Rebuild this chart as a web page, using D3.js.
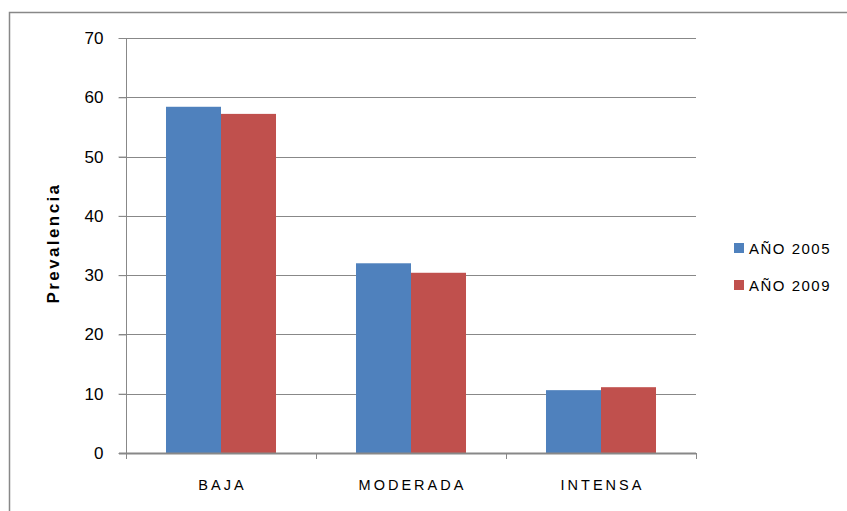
<!DOCTYPE html>
<html><head><meta charset="utf-8">
<script src="https://cdn.jsdelivr.net/npm/d3@7"></script>
<style>body{margin:0;background:#fff;} svg{display:block;font-family:"Liberation Sans",Arial,sans-serif;}</style>
</head><body><svg id="c" width="847" height="511"></svg>
<script>
const categories = ["BAJA", "MODERADA", "INTENSA"];
const seriesNames = ["AÑO 2005", "AÑO 2009"];
const values2005 = [58.4, 32.0, 10.6];
const values2009 = [57.2, 30.4, 11.1];
const yTicks = [0, 10, 20, 30, 40, 50, 60, 70];
const colors = ["#4f81bd", "#c0504d"];

(function(){
const svg = d3.select("#c");
const pL = 126, pR = 696, pT = 38, pB = 453;

// outer border
svg.append("path").attr("d", "M9.5,511 L9.5,12.5 L847,12.5").attr("fill","none").attr("stroke","#888").attr("stroke-width",1.5);

const y = d3.scaleLinear().domain([0,70]).range([pB, pT]);
const x = d3.scaleBand().domain(categories).range([pL, pR]).paddingInner(0.421).paddingOuter(0.2105);
const xs = d3.scaleBand().domain(seriesNames).range([0, x.bandwidth()]);

// gridlines
svg.append("g").selectAll("line").data(yTicks.filter(d=>d>0)).join("line")
  .attr("x1", pL-7).attr("x2", pR).attr("y1", d=>Math.round(y(d))+0.5).attr("y2", d=>Math.round(y(d))+0.5)
  .attr("stroke","#888").attr("stroke-width",1);

// y axis
const yAxis = d3.axisLeft(y).tickValues(yTicks).tickSize(8).tickPadding(15).tickFormat(d3.format("d"));
const gy = svg.append("g").attr("transform",`translate(${pL+0.5},0)`).call(yAxis);
gy.select(".domain").attr("stroke","#888").attr("d", `M0,${pT} V${pB+6}`);
gy.selectAll(".tick line").attr("stroke","#888");
gy.selectAll(".tick text").attr("font-size",17).attr("fill","#000").attr("font-family","Liberation Sans, Arial, sans-serif");

// bars
const data = categories.map((c,i)=>({cat:c, vals:[values2005[i], values2009[i]]}));
const grp = svg.append("g").selectAll("g").data(data).join("g").attr("transform", d=>`translate(${x(d.cat)},0)`);
grp.selectAll("rect").data(d=>d.vals.map((v,j)=>({v, s:seriesNames[j], j}))).join("rect")
  .attr("x", d=>xs(d.s)).attr("width", xs.bandwidth())
  .attr("y", d=>y(d.v)).attr("height", d=>pB - y(d.v))
  .attr("fill", d=>colors[d.j]);

// x axis
const step = x.step();
const bounds = [pL, pL+step, pL+2*step, pR];
svg.append("line").attr("x1", pL-7).attr("x2", pR).attr("y1", pB+0.5).attr("y2", pB+0.5).attr("stroke","#888").attr("stroke-width",2);
svg.append("g").selectAll("line").data(bounds).join("line")
  .attr("x1", d=>Math.round(d)+0.5).attr("x2", d=>Math.round(d)+0.5).attr("y1", pB).attr("y2", pB+6).attr("stroke","#888");
svg.append("g").selectAll("text").data(categories).join("text")
  .attr("x", d=>x(d)+x.bandwidth()/2+1.5).attr("y", 490).attr("text-anchor","middle")
  .attr("font-size",14.5).attr("letter-spacing","3px").attr("fill","#000").text(d=>d);

// y title
svg.append("text").attr("transform","translate(59,243) rotate(-90)").attr("text-anchor","middle")
  .attr("font-size",17).attr("font-weight","bold").attr("letter-spacing","2.4px").attr("fill","#000").text("Prevalencia");

// legend
const lg = svg.append("g").selectAll("g").data(seriesNames).join("g").attr("transform",(d,i)=>`translate(734,${243+i*37})`);
lg.append("rect").attr("width",10).attr("height",10).attr("fill",(d,i)=>colors[i]);
lg.append("text").attr("x",15).attr("y",11).attr("font-size",15).attr("letter-spacing","1.5px").attr("fill","#000").text(d=>d);
})();
</script></body></html>
